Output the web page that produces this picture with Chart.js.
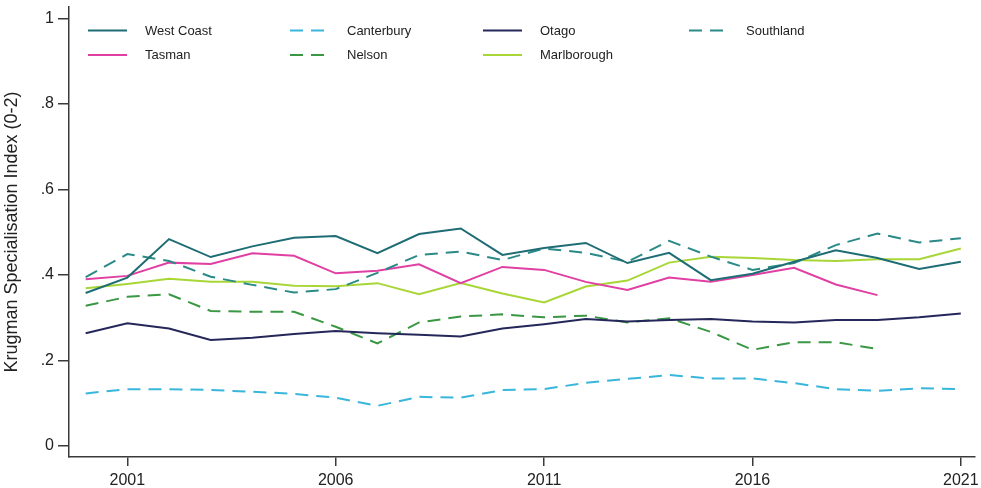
<!DOCTYPE html>
<html>
<head>
<meta charset="utf-8">
<title>Krugman Specialisation Index</title>
<script src="https://cdn.jsdelivr.net/npm/chart.js@4.4.1/dist/chart.umd.min.js"></script>
<style>
  html, body { margin: 0; padding: 0; background: #ffffff; }
  #wrap { width: 981px; height: 488px; }
</style>
</head>
<body>
<div id="wrap"><canvas id="chart" width="981" height="488"></canvas></div>
<script>
// Regional Krugman specialisation index, 2000-2021
const years = [2000, 2001, 2002, 2003, 2004, 2005, 2006, 2007, 2008, 2009, 2010,
               2011, 2012, 2013, 2014, 2015, 2016, 2017, 2018, 2019, 2020, 2021];

const westCoast   = [0.358, 0.394, 0.484, 0.442, 0.467, 0.487, 0.491, 0.451, 0.496, 0.509, 0.447,
                     0.463, 0.475, 0.428, 0.452, 0.388, 0.403, 0.431, 0.458, 0.440, 0.414, 0.431];
const canterbury  = [0.123, 0.133, 0.133, 0.131, 0.127, 0.122, 0.113, 0.094, 0.115, 0.113, 0.131,
                     0.133, 0.148, 0.157, 0.166, 0.158, 0.158, 0.147, 0.133, 0.129, 0.135, 0.133];
const otago       = [0.264, 0.287, 0.275, 0.248, 0.253, 0.262, 0.269, 0.264, 0.260, 0.256, 0.275,
                     0.285, 0.297, 0.291, 0.295, 0.297, 0.291, 0.289, 0.295, 0.295, 0.301, 0.310];
const southland   = [0.395, 0.449, 0.433, 0.396, 0.377, 0.359, 0.367, 0.405, 0.447, 0.455, 0.435,
                     0.462, 0.452, 0.431, 0.480, 0.443, 0.412, 0.428, 0.470, 0.497, 0.476, 0.486];
const tasman      = [0.390, 0.398, 0.429, 0.426, 0.451, 0.445, 0.404, 0.410, 0.425, 0.381, 0.419,
                     0.412, 0.384, 0.365, 0.394, 0.384, 0.400, 0.417, 0.378, 0.353, null, null];
const nelson      = [0.328, 0.349, 0.355, 0.316, 0.314, 0.314, 0.279, 0.240, 0.289, 0.303, 0.308,
                     0.301, 0.305, 0.289, 0.299, 0.267, 0.225, 0.243, 0.243, 0.227, null, null];
const marlborough = [0.369, 0.379, 0.391, 0.384, 0.384, 0.375, 0.374, 0.381, 0.355, 0.381, 0.357,
                     0.336, 0.373, 0.387, 0.429, 0.443, 0.440, 0.435, 0.433, 0.437, 0.437, 0.462];

const xTicks = [2001, 2006, 2011, 2016, 2021];
const yTicks = [0, 0.2, 0.4, 0.6, 0.8, 1];
const yTickLabels = ['0', '.2', '.4', '.6', '.8', '1'];

const DASH = [13, 8];
const series = [
  { label: 'West Coast',  values: westCoast,   color: '#1f6d74', dash: [],   col: 0, row: 0 },
  { label: 'Canterbury',  values: canterbury,  color: '#38b6dc', dash: DASH, col: 1, row: 0 },
  { label: 'Otago',       values: otago,       color: '#25275a', dash: [],   col: 2, row: 0 },
  { label: 'Southland',   values: southland,   color: '#2a8a88', dash: DASH, col: 3, row: 0 },
  { label: 'Tasman',      values: tasman,      color: '#e03fa3', dash: [],   col: 0, row: 1 },
  { label: 'Nelson',      values: nelson,      color: '#3a9743', dash: DASH, col: 1, row: 1 },
  { label: 'Marlborough', values: marlborough, color: '#a8d636', dash: [],   col: 2, row: 1 }
];

const datasets = series.map(s => ({
  label: s.label,
  data: years.map((yr, i) => ({ x: yr, y: s.values[i] })),
  borderColor: s.color,
  backgroundColor: s.color,
  borderWidth: 2,
  borderDash: s.dash,
  pointRadius: 0,
  pointHoverRadius: 0,
  tension: 0,
  fill: false,
  spanGaps: false,
  legendCol: s.col,
  legendRow: s.row
}));

// Four-column key above the lines
const keyColumns = [88, 290, 483, 689];
const keyRows = [30.5, 55];
const keyPlugin = {
  id: 'gridKey',
  afterDraw(chart) {
    const ctx = chart.ctx;
    ctx.save();
    ctx.font = '13px "Liberation Sans", Arial, sans-serif';
    ctx.textBaseline = 'middle';
    ctx.textAlign = 'left';
    chart.data.datasets.forEach(ds => {
      const x0 = keyColumns[ds.legendCol];
      const y0 = keyRows[ds.legendRow];
      ctx.strokeStyle = ds.borderColor;
      ctx.lineWidth = 2;
      ctx.setLineDash(ds.borderDash || []);
      ctx.beginPath();
      ctx.moveTo(x0, y0);
      ctx.lineTo(x0 + 39, y0);
      ctx.stroke();
      ctx.setLineDash([]);
      ctx.fillStyle = '#222222';
      ctx.fillText(ds.label, x0 + 57, y0 + 0.5);
    });
    ctx.restore();
  }
};

const axisColor = '#3a3a3a';

new Chart(document.getElementById('chart'), {
  type: 'line',
  data: { datasets },
  plugins: [keyPlugin],
  options: {
    responsive: false,
    animation: false,
    devicePixelRatio: 1,
    layout: { padding: { top: 7, right: 6, left: 0, bottom: 0 } },
    plugins: {
      legend: { display: false },
      tooltip: { enabled: false }
    },
    scales: {
      x: {
        type: 'linear',
        min: 1999.6,
        max: 2021.34,
        afterBuildTicks: scale => { scale.ticks = xTicks.map(v => ({ value: v })); },
        afterFit: scale => { scale.height = 31; scale.paddingLeft = 0; scale.paddingRight = 0; },
        grid: { display: true, drawOnChartArea: false, drawTicks: true, tickLength: 9, color: axisColor, lineWidth: 1.5 },
        border: { display: true, color: axisColor, width: 1.5 },
        ticks: {
          color: '#222222',
          padding: 5,
          maxRotation: 0,
          autoSkip: false,
          font: { family: '"Liberation Sans", Arial, sans-serif', size: 16 },
          callback: v => String(v)
        }
      },
      y: {
        type: 'linear',
        min: -0.0257,
        max: 1.027,
        afterBuildTicks: scale => { scale.ticks = yTicks.map(v => ({ value: v })); },
        afterFit: scale => { scale.width = 69; scale.paddingTop = 0; scale.paddingBottom = 0; },
        grid: { display: true, drawOnChartArea: false, drawTicks: true, tickLength: 11, color: axisColor, lineWidth: 1.5 },
        border: { display: true, color: axisColor, width: 1.5 },
        ticks: {
          color: '#222222',
          padding: 4,
          autoSkip: false,
          font: { family: '"Liberation Sans", Arial, sans-serif', size: 16 },
          callback: v => {
            const i = yTicks.findIndex(t => Math.abs(t - v) < 1e-9);
            return i >= 0 ? yTickLabels[i] : '';
          }
        },
        title: {
          display: true,
          text: 'Krugman Specialisation Index (0-2)',
          color: '#222222',
          padding: { top: 1, bottom: 0 },
          font: { family: '"Liberation Sans", Arial, sans-serif', size: 18 }
        }
      }
    }
  }
});
</script>
</body>
</html>
